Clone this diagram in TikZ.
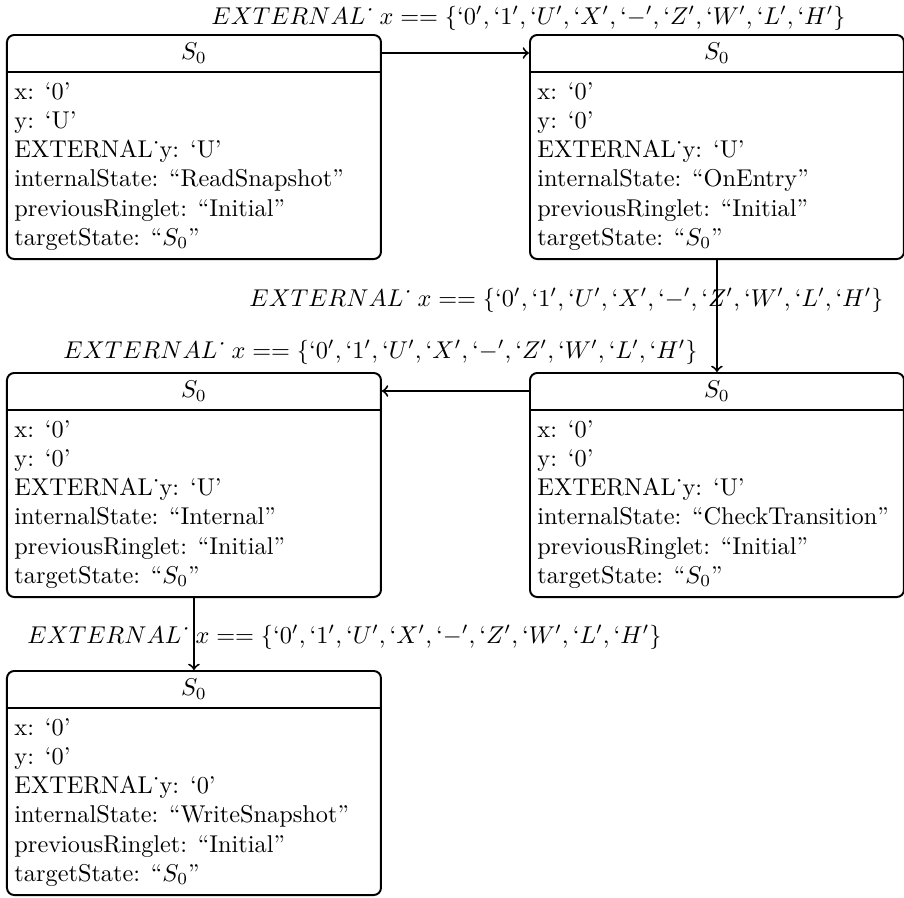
\documentclass[tikz,border=0pt]{standalone}
\usetikzlibrary{calc}

\tikzset{
  statebox/.style={draw, thick, rounded corners=3pt, minimum width=153.9pt,
    minimum height=92.2pt, inner sep=0pt},
  statehead/.style={inner sep=0pt},
  headrule/.style={thick},
  statebody/.style={inner sep=0pt, align=left},
  trans/.style={thick, ->},
  translabel/.style={inner sep=0pt, anchor=base west},
}

% guard of every transition
\newcommand{\guardtext}{$EXTERNAL$\kern-1pt\textit{˙}\ $x == \{`0', `1', `U', `X', `-', `Z', `W', `L', `H'\}$}

% one state: name, north-west corner, variable listing
\newcommand{\drawstate}[3]{%
  \node[statebox, anchor=north west] (#1) at #2 {};
  \node[statehead] (#1-head) at ($(#1.north)+(0,19)$) {$S_0$};
  \draw[headrule] ($(#1.north west)+(0,37.7)$) -- ($(#1.north east)+(0,37.7)$);
  \node[statebody, anchor=north west] (#1-body) at ($(#1.north west)+(8,48)$) {#3};
}

\begin{document}
\begin{tikzpicture}[x=0.4115pt, y=-0.4115pt]
  \useasboundingbox (0,0) rectangle (904,898);

  \drawstate{a}{(6,34)}{x: ‘0’\\ y: ‘U’\\ EXTERNAL˙y: ‘U’\\ internalState: “ReadSnapshot”\\ previousRinglet: “Initial”\\ targetState: “$S_0$”}
  \drawstate{b}{(529,34)}{x: ‘0’\\ y: ‘0’\\ EXTERNAL˙y: ‘U’\\ internalState: “OnEntry”\\ previousRinglet: “Initial”\\ targetState: “$S_0$”}
  \drawstate{c}{(529,372)}{x: ‘0’\\ y: ‘0’\\ EXTERNAL˙y: ‘U’\\ internalState: “CheckTransition”\\ previousRinglet: “Initial”\\ targetState: “$S_0$”}
  \drawstate{d}{(6,372)}{x: ‘0’\\ y: ‘0’\\ EXTERNAL˙y: ‘U’\\ internalState: “Internal”\\ previousRinglet: “Initial”\\ targetState: “$S_0$”}
  \drawstate{e}{(6,670)}{x: ‘0’\\ y: ‘0’\\ EXTERNAL˙y: ‘0’\\ internalState: “WriteSnapshot”\\ previousRinglet: “Initial”\\ targetState: “$S_0$”}

  % transitions
  \draw[trans] (a-head -| a.east) -- (a-head -| b.west);
  \draw[trans] (b.south) -- (c.north);
  \draw[trans] (c-head -| c.west) -- (c-head -| d.east);
  \draw[trans] (d.south) -- (e.north);

  % guards
  \node[translabel] (lab) at (211,24) {\guardtext};
  \node[translabel] (lbc) at (249,306) {\guardtext};
  \node[translabel] (lcd) at (63,358) {\guardtext};
  \node[translabel] (lde) at (27,643) {\guardtext};
\end{tikzpicture}
\end{document}
